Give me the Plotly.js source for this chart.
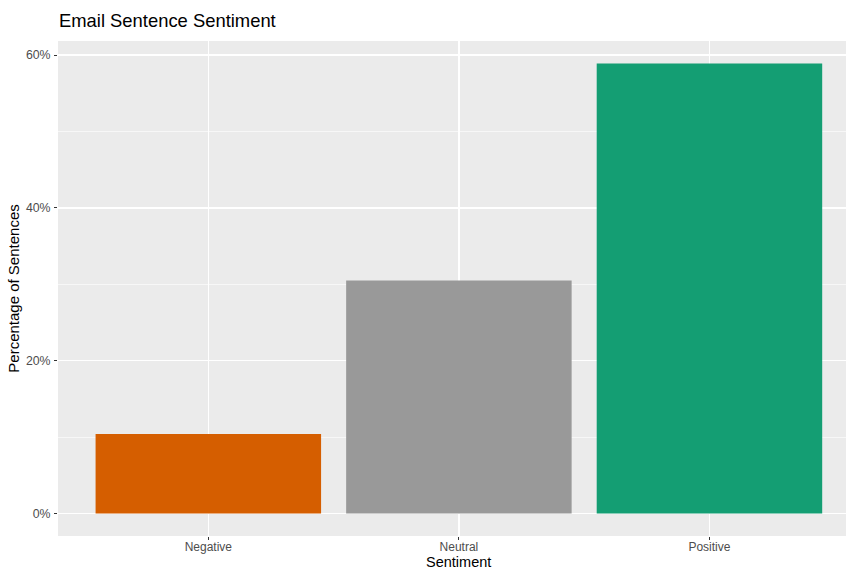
<!DOCTYPE html>
<html>
<head>
<meta charset="utf-8">
<script src="https://cdn.plot.ly/plotly-3.0.1.min.js"></script>
<style>html,body{margin:0;padding:0;background:#fff;}#chart{width:846px;height:569px;}</style>
</head>
<body>
<div id="chart"></div>
<script>
var categories = ["Negative", "Neutral", "Positive"];
var percentages = [10.4, 30.5, 58.9];
var barColors = ["#D55E00", "#999999", "#149E73"];
var yTickValues = [0, 20, 40, 60];
var yTickLabels = ["0%", "20%", "40%", "60%"];
var yMinorValues = [10, 30, 50];

var font = "Liberation Sans, Arial, Helvetica, sans-serif";

var trace = {
  type: "bar",
  x: categories,
  y: percentages,
  marker: {color: barColors, line: {width: 0}},
  width: 0.9,
  hoverinfo: "x+y"
};

var layout = {
  width: 846,
  height: 569,
  margin: {l: 58, r: 0, t: 41, b: 33, pad: 0},
  paper_bgcolor: "#FFFFFF",
  plot_bgcolor: "#EBEBEB",
  showlegend: false,
  bargap: 0.1,
  title: {
    text: "Email Sentence Sentiment",
    x: 59 / 846, xanchor: "left", xref: "container",
    y: 1 - 21 / 569, yanchor: "middle", yref: "container",
    font: {family: font, size: 18.4, color: "#000000"}
  },
  xaxis: {
    type: "category",
    range: [-0.6, 2.545],
    showgrid: true,
    gridcolor: "#FFFFFF",
    gridwidth: 1.4,
    zeroline: false,
    showline: false,
    ticks: "outside",
    ticklen: 3,
    tickwidth: 1,
    tickcolor: "#333333",
    ticklabelstandoff: -3,
    tickfont: {family: font, size: 12, color: "#4D4D4D"}
  },
  yaxis: {
    range: [-2.945, 61.85],
    tickvals: yTickValues,
    ticktext: yTickLabels,
    showgrid: true,
    gridcolor: "#FFFFFF",
    gridwidth: 1.4,
    zeroline: false,
    showline: false,
    ticks: "outside",
    ticklen: 3,
    tickwidth: 1,
    tickcolor: "#333333",
    ticklabelstandoff: 1,
    tickfont: {family: font, size: 12.3, color: "#4D4D4D"},
    minor: {tickvals: yMinorValues, showgrid: true, gridcolor: "#FAFAFA", gridwidth: 0.8, ticks: ""},
    title: {text: "Percentage of Sentences", font: {family: font, size: 15, color: "#000000"}, standoff: 2}
  },
  annotations: [{
    text: "Sentiment",
    xref: "x", x: 1,
    yref: "paper", y: -(553 - 536) / 495, yanchor: "top",
    borderpad: 0,
    showarrow: false,
    font: {family: font, size: 14.5, color: "#000000"}
  }]
};

Plotly.newPlot("chart", [trace], layout, {displayModeBar: false, staticPlot: true});
</script>
</body>
</html>
